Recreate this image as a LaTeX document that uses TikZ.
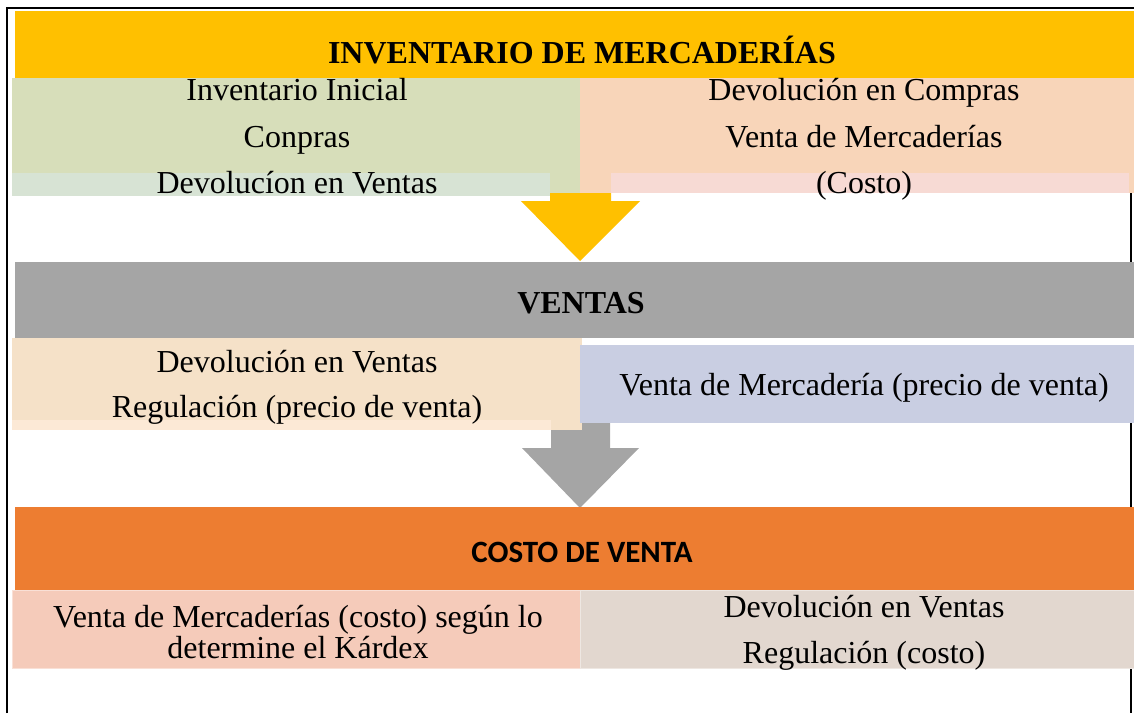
\documentclass[tikz,border=0pt]{standalone}
\usepackage{fontspec}
\setmainfont{Liberation Serif}
\newfontfamily\calib{Carlito}
\definecolor{yel}{HTML}{FFC000}
\definecolor{grn}{HTML}{D7DEBA}
\definecolor{grnlt}{HTML}{D7E3D4}
\definecolor{pch}{HTML}{F8D5B9}
\definecolor{pnk}{HTML}{F7DAD4}
\definecolor{gry}{HTML}{A5A5A5}
\definecolor{pchb}{HTML}{F5E1C8}
\definecolor{pchblt}{HTML}{FCE9D6}
\definecolor{lav}{HTML}{C9CEE2}
\definecolor{org}{HTML}{ED7D31}
\definecolor{pnkc}{HTML}{F5CBBA}
\definecolor{bge}{HTML}{E2D7CF}
\tikzset{
  blk/.style={draw=none, inner sep=0pt, outer sep=0pt, anchor=north west},
  txt/.style={inner sep=0pt, anchor=base, font=\fontsize{32}{38}\selectfont},
  ttl/.style={inner sep=0pt, anchor=base, font=\fontsize{32}{38}\selectfont\bfseries},
  frm/.style={line width=2pt, black}
}
\begin{document}
\begin{tikzpicture}[x=1pt,y=-1pt]
\useasboundingbox (0,0) rectangle (1134,713);
% frame
\coordinate (fTL) at (7,8);
\coordinate (fBL) at (7,713);
\coordinate (fTR) at (1134,8);
\draw[frm] (fBL) -- (fTL) -- (fTR);
\coordinate (r1a) at (1131,173); \coordinate (r1b) at (1131,262);
\coordinate (r2a) at (1131,423); \coordinate (r2b) at (1131,507);
\coordinate (r3a) at (1131,668); \coordinate (r3b) at (1131,713);
\draw[frm] (r1a) -- (r1b) (r2a) -- (r2b) (r3a) -- (r3b);
% arrows
\coordinate (aTip) at (580,261);
\fill[yel] (aTip) -- ++(-59,-60) -- ++(29,0) -- ++(0,-10) -- ++(61,0) -- ++(0,10) -- ++(29,0) -- cycle;
\coordinate (bTip) at (580,508);
\fill[gry] (bTip) -- ++(-58,-60) -- ++(29,0) -- ++(0,-27) -- ++(59,0) -- ++(0,27) -- ++(29,0) -- cycle;
% section 1
\node[blk, fill=yel, minimum width=1119pt, minimum height=67pt] (hdrA) at (15,11) {};
\node[blk, fill=grn, minimum width=570pt, minimum height=115pt] (grnBox) at (12,78) {};
\node[blk, fill=grnlt, minimum width=538pt, minimum height=23pt] (grnStrip) at (12,173) {};
\node[blk, fill=pch, minimum width=554pt, minimum height=115pt] (pchBox) at (580,78) {};
\node[blk, fill=pnk, minimum width=518pt, minimum height=20pt] (pnkStrip) at (611,173) {};
\node[ttl] (tA) at (582,63) {INVENTARIO DE MERCADERÍAS};
\node[txt] (a1) at (297,100) {Inventario Inicial};
\node[txt] (a2) at (297,147) {Conpras};
\node[txt] (a3) at (297,193) {Devolucíon en Ventas};
\node[txt] (b1) at (864,100) {Devolución en Compras};
\node[txt] (b2) at (864,147) {Venta de Mercaderías};
\node[txt] (b3) at (864,193) {(Costo)};
% section 2
\node[blk, fill=gry, minimum width=1119pt, minimum height=76pt] (hdrB) at (15,262) {};
\node[blk, fill=pchb, minimum width=570pt, minimum height=92pt] (pchbBox) at (12,338) {};
\node[blk, fill=pchblt, minimum width=539pt, minimum height=10pt] (pchbStrip) at (12,420) {};
\node[blk, fill=lav, minimum width=554pt, minimum height=78pt] (lavBox) at (580,345) {};
\node[ttl] (tB) at (581,313) {VENTAS};
\node[txt] (c1) at (297,372) {Devolución en Ventas};
\node[txt] (c2) at (297,417) {Regulación (precio de venta)};
\node[txt] (d1) at (864,395) {Venta de Mercadería (precio de venta)};
% section 3
\node[blk, fill=org, minimum width=1119pt, minimum height=83pt] (hdrC) at (15,507) {};
\node[blk, fill=pnkc, draw=pnkc!60!white, line width=1pt, minimum width=568pt, minimum height=78pt] (pnkcBox) at (12,590) {};
\node[blk, fill=bge, draw=bge!60!white, line width=1pt, minimum width=554pt, minimum height=78pt] (bgeBox) at (580,590) {};
\node[inner sep=0pt, anchor=base, font=\fontsize{31}{36}\selectfont\calib\bfseries] (tC) at (582,562) {COSTO DE VENTA};
\node[txt] (e1) at (298,627) {Venta de Mercaderías (costo) según lo};
\node[txt] (e2) at (298,658) {determine el Kárdex};
\node[txt] (f1) at (864,617) {Devolución en Ventas};
\node[txt] (f2) at (864,663) {Regulación (costo)};
\end{tikzpicture}
\end{document}
